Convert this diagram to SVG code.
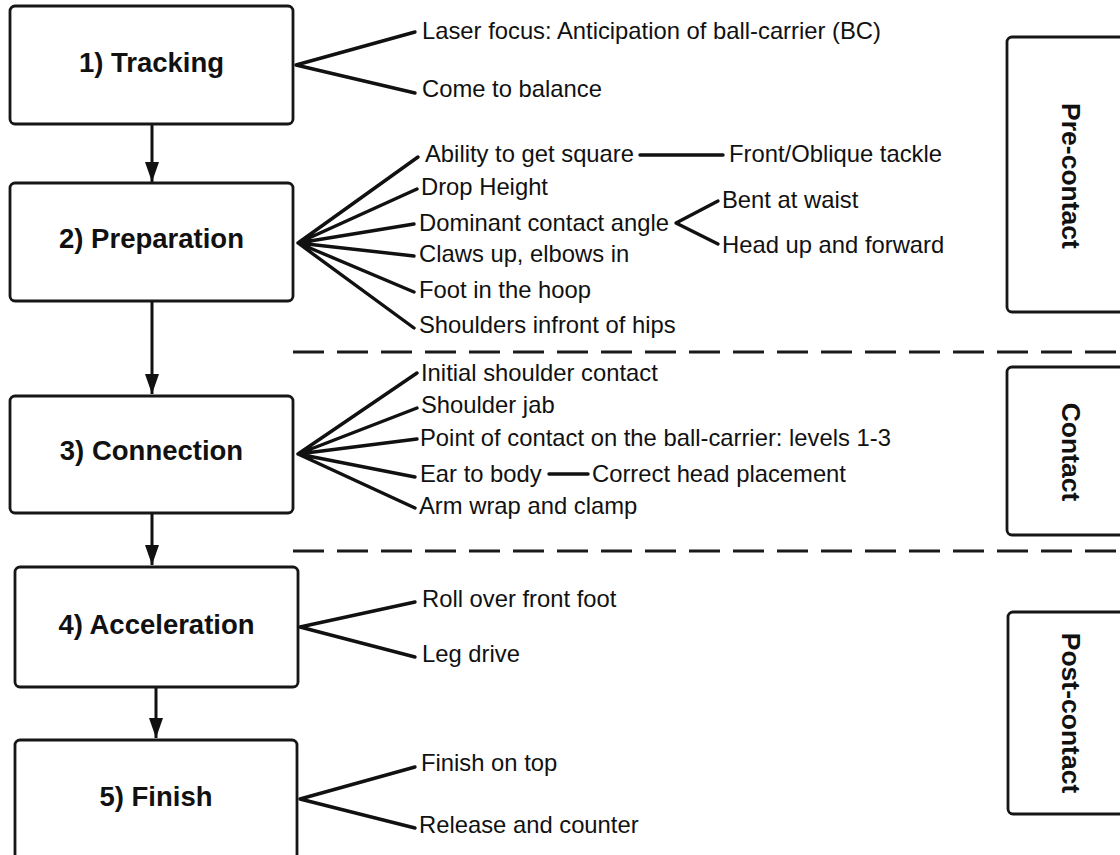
<svg xmlns="http://www.w3.org/2000/svg" width="1120" height="855" viewBox="0 0 1120 855">
<style>
.box{fill:#fff;stroke:#161616;stroke-width:2.8}
.lbl{font-family:"Liberation Sans",Arial,sans-serif;font-weight:bold;font-size:27.5px;fill:#111;text-anchor:middle}
.side{font-family:"Liberation Sans",Arial,sans-serif;font-weight:bold;font-size:26.5px;fill:#111;text-anchor:middle}
.t{font-family:"Liberation Sans",Arial,sans-serif;font-size:23.8px;fill:#111}
.ln{stroke:#111;stroke-width:3.4;fill:none;stroke-linecap:round;stroke-linejoin:round}
.arr{stroke:#111;stroke-width:3;fill:none}
.dash{stroke:#1a1a1a;stroke-width:3;stroke-dasharray:31 13;fill:none}
</style>
<defs>
<marker id="ah" viewBox="0 0 20 14" markerWidth="20" markerHeight="14" refX="20" refY="7" orient="auto" markerUnits="userSpaceOnUse">
<path d="M0,0 L20,7 L0,14 z" fill="#111"/>
</marker>
</defs>
<rect width="1120" height="855" fill="#fff"/>

<g id="dividers">
<line class="dash" x1="293" y1="352" x2="1120" y2="352"/>
<line class="dash" x1="293" y1="551" x2="1120" y2="551"/>
</g>

<g id="phase-pre">
<rect class="box" x="1007" y="37" width="140" height="275" rx="5"/>
<text class="side" transform="translate(1062,176) rotate(90)">Pre-contact</text>
</g>
<g id="phase-contact">
<rect class="box" x="1007" y="367" width="140" height="168" rx="5"/>
<text class="side" transform="translate(1062,452) rotate(90)">Contact</text>
</g>
<g id="phase-post">
<rect class="box" x="1008" y="612" width="140" height="202" rx="5"/>
<text class="side" transform="translate(1062,713) rotate(90)">Post-contact</text>
</g>

<g id="connectors">
<line class="arr" x1="152" y1="124" x2="152" y2="182" marker-end="url(#ah)"/>
<line class="arr" x1="152" y1="301" x2="152" y2="394" marker-end="url(#ah)"/>
<line class="arr" x1="152" y1="513" x2="152" y2="565" marker-end="url(#ah)"/>
<line class="arr" x1="156" y1="687" x2="156" y2="738" marker-end="url(#ah)"/>
<path class="ln" d="M415,32 L296,65 L415,93"/>
<path class="ln" d="M418,157 L298,243 L417,189 M298,243 L414,224 M298,243 L414,256 M298,243 L414,292 M298,243 L414,328"/>
<path class="ln" d="M640,155 L723,155"/>
<path class="ln" d="M718,201 L676,223 L718,244"/>
<path class="ln" d="M417,373 L298,454 L417,408 M298,454 L417,439 M298,454 L415,477 M298,454 L415,508"/>
<path class="ln" d="M549,474 L588,474"/>
<path class="ln" d="M415,602 L300,627 L415,657"/>
<path class="ln" d="M415,767 L300,799 L415,828"/>
</g>

<g id="node-1">
<rect class="box" x="10" y="6" width="283" height="118" rx="5"/>
<text class="lbl" x="151.5" y="72">1) Tracking</text>
<text class="t" x="422" y="39">Laser focus: Anticipation of ball-carrier (BC)</text>
<text class="t" x="422" y="97">Come to balance</text>
</g>

<g id="node-2">
<rect class="box" x="10" y="183" width="283" height="118" rx="5"/>
<text class="lbl" x="151.5" y="248">2) Preparation</text>
<text class="t" x="425" y="162">Ability to get square</text>
<text class="t" x="729" y="162">Front/Oblique tackle</text>
<text class="t" x="421" y="195">Drop Height</text>
<text class="t" x="419" y="231">Dominant contact angle</text>
<text class="t" x="722" y="208">Bent at waist</text>
<text class="t" x="722" y="253">Head up and forward</text>
<text class="t" x="419" y="262">Claws up, elbows in</text>
<text class="t" x="419" y="298">Foot in the hoop</text>
<text class="t" x="419" y="333">Shoulders infront of hips</text>
</g>

<g id="node-3">
<rect class="box" x="10" y="396" width="283" height="117" rx="5"/>
<text class="lbl" x="151.5" y="460">3) Connection</text>
<text class="t" x="421" y="381">Initial shoulder contact</text>
<text class="t" x="421" y="413">Shoulder jab</text>
<text class="t" x="420" y="446">Point of contact on the ball-carrier: levels 1-3</text>
<text class="t" x="420" y="482">Ear to body</text>
<text class="t" x="592" y="482">Correct head placement</text>
<text class="t" x="419" y="514">Arm wrap and clamp</text>
</g>

<g id="node-4">
<rect class="box" x="15" y="567" width="283" height="120" rx="5"/>
<text class="lbl" x="156.5" y="634">4) Acceleration</text>
<text class="t" x="422" y="607">Roll over front foot</text>
<text class="t" x="422" y="662">Leg drive</text>
</g>

<g id="node-5">
<rect class="box" x="15" y="740" width="282" height="140" rx="5"/>
<text class="lbl" x="156" y="806">5) Finish</text>
<text class="t" x="421" y="771">Finish on top</text>
<text class="t" x="419" y="833">Release and counter</text>
</g>
</svg>
